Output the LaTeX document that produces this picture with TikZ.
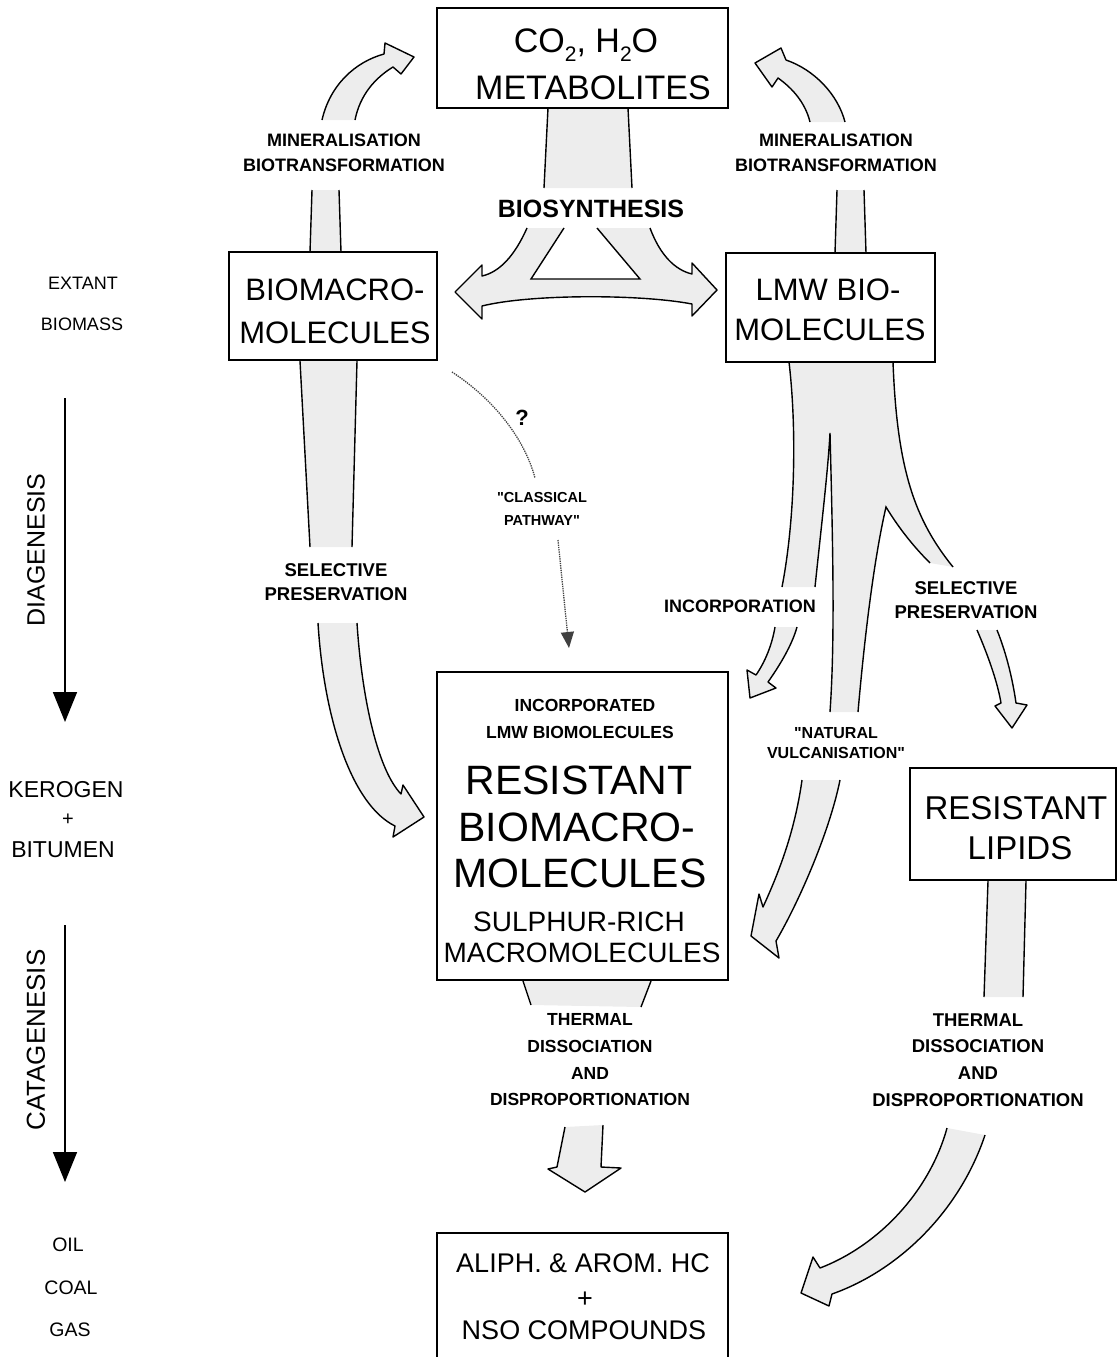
\documentclass[tikz,border=0pt]{standalone}
\usepackage{fontspec}
\setmainfont{Liberation Sans}
\usetikzlibrary{arrows.meta}
\newcommand{\myfs}[1]{\fontsize{#1}{#1}\selectfont}
\begin{document}
\begin{tikzpicture}[x=1pt,y=-1pt,
 box/.style={draw, line width=1.8pt, inner sep=0pt},
 txt/.style={inner sep=0pt, align=center},
 lab/.style={inner sep=0pt, align=center, font=\fontsize{18}{24}\selectfont\bfseries},
 stip/.style={fill=black!7},
 blk/.style={draw, line width=1.4pt, fill=black!7, line join=round},
 edge/.style={line width=1.4pt},
 larr/.style={line width=1.6pt, -{Triangle[width=24pt,length=30pt]}},
 dotline/.style={line width=1.3pt, densely dotted, black!75},
]
\useasboundingbox (0,0) rectangle (1119,1357);

% ---------- block arrows ----------
% left mineralisation
\fill[stip] (310,252) -- (312,190) -- (339,190) -- (341,252) -- cycle;
\draw[edge] (310,252) -- (312,190) (339,190) -- (341,252);
\draw[blk] (322,120) .. controls (330,85) and (355,62) .. (384,54) -- (385,43) -- (414,57) -- (401,74) -- (393,67) .. controls (375,78) and (360,95) .. (355,120);
% right mineralisation
\fill[stip] (835,253) -- (837,190) -- (864,190) -- (866,253) -- cycle;
\draw[edge] (835,253) -- (837,190) (864,190) -- (866,253);
\draw[blk] (845,122) .. controls (838,95) and (815,70) .. (786,60) -- (781,48) -- (755,63) -- (772,87) -- (778,78) .. controls (792,88) and (805,102) .. (810,122);
% biosynthesis
\fill[stip] (548,108) -- (544,188) -- (632,188) -- (628,108) -- cycle;
\draw[edge] (548,108) -- (544,188) (632,188) -- (628,108);
\draw[blk] (527,228) .. controls (515,255) and (500,272) .. (482,276) -- (482,265) -- (455,292) -- (482,319) -- (482,306) .. controls (530,294) and (640,294) .. (692,304) -- (692,316) -- (717,290) -- (692,263) -- (692,274) .. controls (675,270) and (660,255) .. (650,228);
\draw[edge, fill=white] (564,228) -- (531,279) -- (640,279) -- (597,228);
% biomacromolecules selective preservation
\fill[stip] (300,361) -- (310,547) -- (352,547) -- (357,361) -- cycle;
\draw[edge] (300,361) -- (310,547) (352,547) -- (357,361);
\draw[blk] (318,623) .. controls (324,720) and (352,805) .. (395,826) -- (393,837) -- (424,817) -- (403,785) -- (401,794) .. controls (378,770) and (362,700) .. (357,623);
% LMW tree
\fill[stip] (789,362) .. controls (797,430) and (795,520) .. (782,587) -- (815,587) .. controls (822,520) and (828,470) .. (830,433) .. controls (833,550) and (835,640) .. (830,712) -- (858,712) .. controls (866,620) and (876,550) .. (886,507) .. controls (900,530) and (915,548) .. (930,563) -- (953,567) .. controls (915,520) and (897,470) .. (893,362) -- cycle;
\draw[edge] (789,362) .. controls (797,430) and (795,520) .. (782,587);
\draw[edge] (815,587) .. controls (822,520) and (828,470) .. (830,433) .. controls (833,550) and (835,640) .. (830,712);
\draw[edge] (858,712) .. controls (866,620) and (876,550) .. (886,507) .. controls (900,530) and (915,548) .. (930,563);
\draw[edge] (953,567) .. controls (915,520) and (897,470) .. (893,362);
% incorporation
\draw[blk] (775,627) .. controls (772,645) and (765,662) .. (756,675) -- (747,670) -- (750,698) -- (776,688) -- (768,682) .. controls (780,665) and (792,645) .. (797,627);
% natural vulcanisation
\draw[blk] (802,780) .. controls (795,830) and (780,870) .. (763,907) -- (759,894) -- (751,936) -- (779,958) -- (776,941) .. controls (800,900) and (830,830) .. (840,780);
% right selective preservation
\draw[blk] (977,630) .. controls (990,660) and (998,685) .. (1001,703) -- (995,706) -- (1012,728) -- (1027,705) -- (1016,703) .. controls (1012,675) and (1005,650) .. (997,630);
% right thermal
\fill[stip] (988,881) -- (984,997) -- (1023,997) -- (1026,881) -- cycle;
\draw[edge] (988,881) -- (984,997) (1023,997) -- (1026,881);
\draw[blk] (947,1128) .. controls (930,1190) and (880,1245) .. (820,1268) -- (813,1257) -- (801,1293) -- (829,1306) -- (832,1294) .. controls (900,1270) and (960,1210) .. (985,1135);
% central thermal
\fill[stip] (523,981) -- (531,1005) -- (641,1007) -- (651,981) -- cycle;
\draw[edge] (523,981) -- (531,1005) (651,981) -- (641,1007);
\draw[blk] (565,1127) -- (557,1167) -- (548,1169) -- (585,1192) -- (621,1168) -- (601,1167) -- (603,1125);

% ---------- boxes ----------
\node[box, minimum width=291pt, minimum height=100pt] (metab) at (582.5,58) {};
\node[box, minimum width=208pt, minimum height=108pt] (biomac) at (333,306) {};
\node[box, minimum width=209pt, minimum height=109pt] (lmw) at (830.5,307.5) {};
\node[box, minimum width=291pt, minimum height=308pt] (resbox) at (582.5,826) {};
\node[box, minimum width=206pt, minimum height=112pt] (lipids) at (1013,824) {};
\node[inner sep=0pt, minimum width=291pt, minimum height=124pt] (prod) at (582.5,1295) {};
\draw[line width=1.8pt] (prod.south west) -- (prod.north west) -- (prod.north east) -- (prod.south east);

% ---------- dotted classical pathway ----------
\coordinate (cp1) at (452,372);
\coordinate (cp2) at (535,478);
\coordinate (cp3) at (558,540);
\coordinate (cp4) at (569,648);
\draw[dotline] (cp1) .. controls (495,400) and (525,440) .. (cp2);
\draw[dotline, -{Triangle[width=13pt,length=16pt]}] (cp3) -- (cp4);

% ---------- box texts ----------
\node[txt, font=\myfs{34}] (t-co2) at (586,45) {CO\raisebox{-9pt}{\myfs{21}2}, H\raisebox{-9pt}{\myfs{21}2}O};
\node[txt, font=\myfs{34}] (t-metab) at (593,88) {METABOLITES};
\node[txt, font=\myfs{31}] (t-bm1) at (335,290) {BIOMACRO-};
\node[txt, font=\myfs{31}] (t-bm2) at (335,333) {MOLECULES};
\node[txt, font=\myfs{31}] (t-lmw1) at (828,290) {LMW BIO-};
\node[txt, font=\myfs{31}] (t-lmw2) at (830,330) {MOLECULES};
\node[txt, font=\myfs{17.5}\bfseries] (t-inc1) at (585,705) {INCORPORATED};
\node[txt, font=\myfs{17.5}\bfseries] (t-inc2) at (580,732) {LMW BIOMOLECULES};
\node[txt, font=\myfs{41}] (t-res1) at (579,780) {RESISTANT};
\node[txt, font=\myfs{41}] (t-res2) at (577,827) {BIOMACRO-};
\node[txt, font=\myfs{41}] (t-res3) at (580,873) {MOLECULES};
\node[txt, font=\myfs{28}] (t-res4) at (579,922) {SULPHUR-RICH};
\node[txt, font=\myfs{28}] (t-res5) at (582,953) {MACROMOLECULES};
\node[txt, font=\myfs{33}] (t-lip1) at (1016,808) {RESISTANT};
\node[txt, font=\myfs{33}] (t-lip2) at (1020,848) {LIPIDS};
\node[txt, font=\myfs{27}] (t-pr1) at (583,1263) {ALIPH. \& AROM. HC};
\node[txt, font=\myfs{27}] (t-pr2) at (585,1300) {+};
\node[txt, font=\myfs{27}] (t-pr3) at (584,1330) {NSO COMPOUNDS};

% ---------- arrow labels ----------
\node[lab, font=\fontsize{18}{25}\selectfont\bfseries] (l-min1) at (344,152.5) {MINERALISATION\\BIOTRANSFORMATION};
\node[lab, font=\fontsize{18}{25}\selectfont\bfseries] (l-min2) at (836,152.5) {MINERALISATION\\BIOTRANSFORMATION};
\node[txt, font=\myfs{25}\bfseries] (l-bio) at (591,209) {BIOSYNTHESIS};
\node[txt, font=\myfs{22}\bfseries] (l-q) at (522,418) {?};
\node[lab, font=\fontsize{14.5}{23}\selectfont\bfseries] (l-class) at (542,508.5) {\textquotedbl CLASSICAL\\PATHWAY\textquotedbl};
\node[lab, font=\fontsize{18.5}{24}\selectfont\bfseries] (l-sel1) at (336,582) {SELECTIVE\\PRESERVATION};
\node[lab] (l-inc) at (740,606) {INCORPORATION};
\node[lab, font=\fontsize{18.5}{24}\selectfont\bfseries] (l-sel2) at (966,600) {SELECTIVE\\PRESERVATION};
\node[lab, font=\fontsize{16}{20}\selectfont\bfseries] (l-vul) at (836,743) {\textquotedbl NATURAL\\VULCANISATION\textquotedbl};
\node[lab, font=\fontsize{17.5}{26.7}\selectfont\bfseries] (l-th1) at (590,1060) {THERMAL\\DISSOCIATION\\AND\\DISPROPORTIONATION};
\node[lab, font=\fontsize{18.5}{26.7}\selectfont\bfseries] (l-th2) at (978,1060) {THERMAL\\DISSOCIATION\\AND\\DISPROPORTIONATION};

% ---------- left column ----------
\node[txt, font=\myfs{18}] (extant) at (83,283) {EXTANT};
\node[txt, font=\myfs{18}] (biomass) at (82,324) {BIOMASS};
\coordinate (dg1) at (65,398);
\coordinate (dg2) at (65,722);
\draw[larr] (dg1) -- (dg2);
\node[txt, font=\myfs{25}, rotate=90] (diag) at (36,550) {DIAGENESIS};
\node[txt, font=\myfs{23}] (kerogen) at (66,790) {KEROGEN};
\node[txt, font=\myfs{20}] (kplus) at (68,820) {+};
\node[txt, font=\myfs{23}] (bitumen) at (63,850) {BITUMEN};
\coordinate (ct1) at (65,925);
\coordinate (ct2) at (65,1182);
\draw[larr] (ct1) -- (ct2);
\node[txt, font=\myfs{26}, rotate=90] (catag) at (36,1040) {CATAGENESIS};
\node[txt, font=\myfs{19.5}] (oil) at (68,1245) {OIL};
\node[txt, font=\myfs{19.5}] (coal) at (71,1288) {COAL};
\node[txt, font=\myfs{19.5}] (gas) at (70,1330) {GAS};
\end{tikzpicture}
\end{document}
